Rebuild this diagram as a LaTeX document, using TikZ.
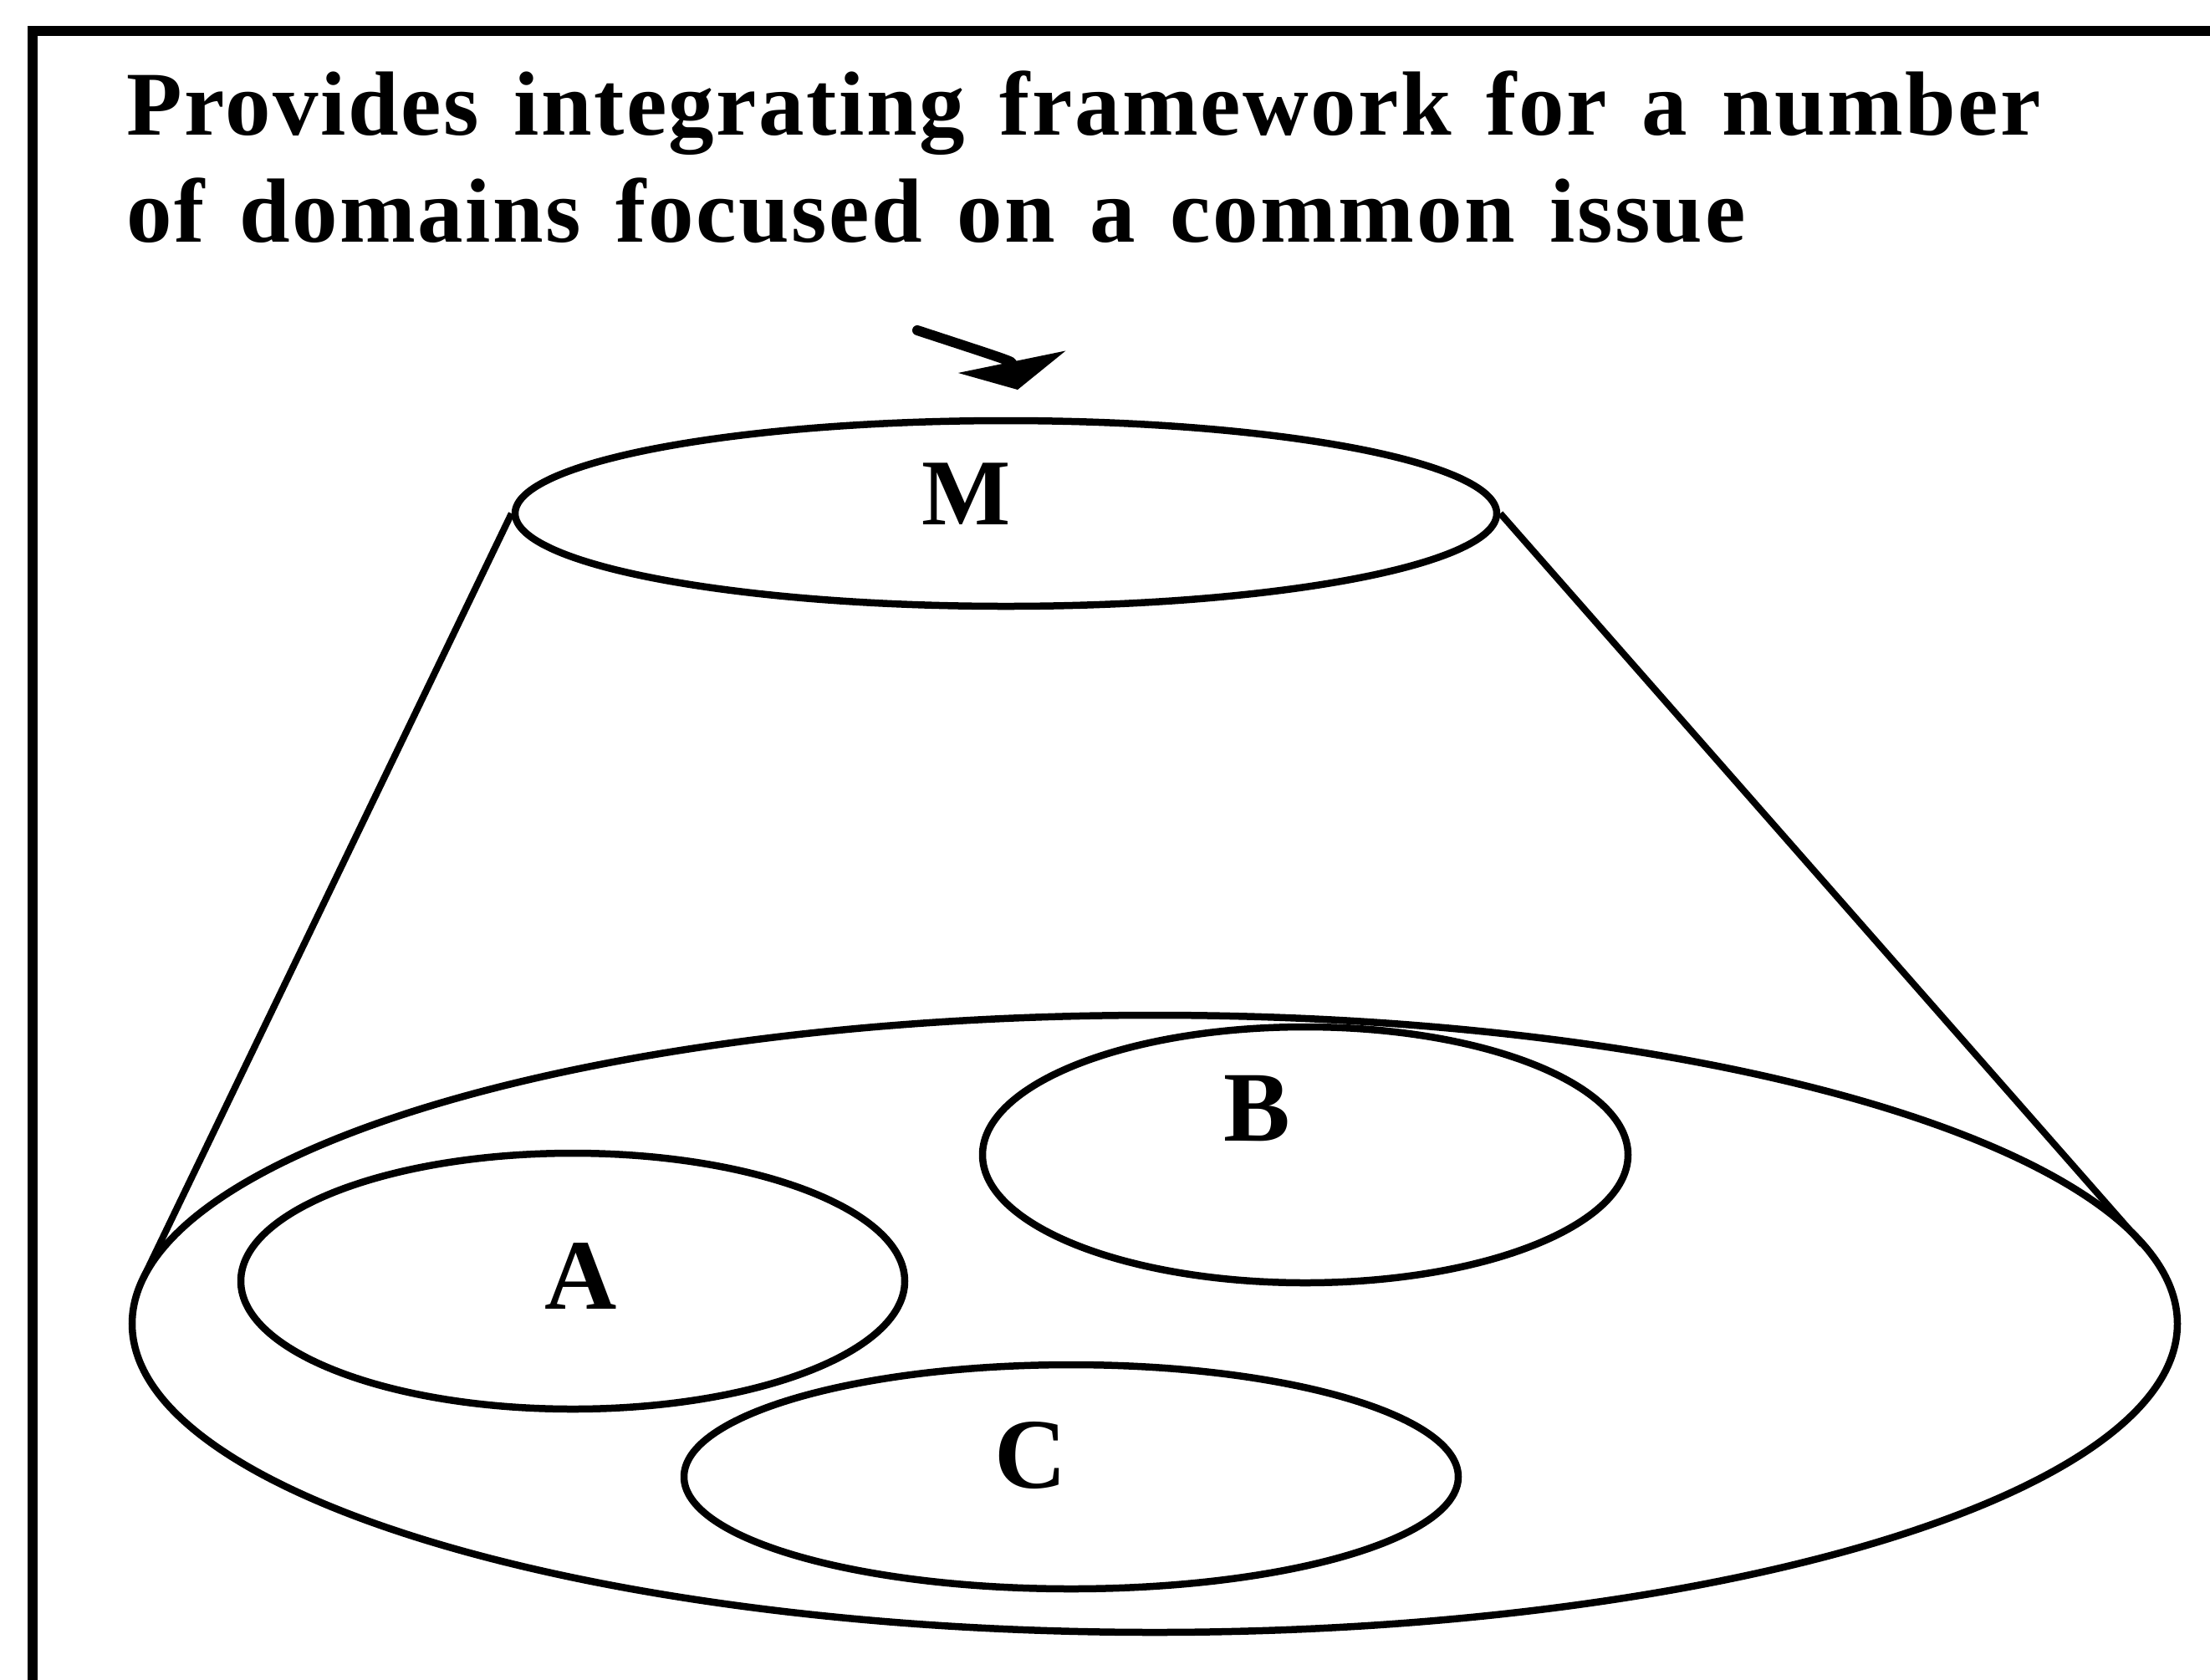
\documentclass[tikz,border=0pt]{standalone}
\usepackage{fontspec}
\setmainfont{Liberation Serif}
\newfontfamily\headfont{Liberation Serif}[LetterSpace=2.3, WordSpace=1.4]
\usetikzlibrary{shapes.geometric, arrows.meta, positioning}

\begin{document}
\begin{tikzpicture}[
    ring/.style={
        draw,
        ellipse,
        line width=0.085cm,
        inner sep=0pt
    },
    rim/.style={line width=0.08cm},
    lbl/.style={font=\bfseries\fontsize{#1}{#1}\selectfont, inner sep=0pt},
    lbl/.default=34,
    headline/.style={
        font=\headfont\bfseries\fontsize{31}{36.3}\selectfont,
        align=left,
        inner sep=0pt
    },
    pointer/.style={
        line width=0.12cm,
        line cap=round,
        -{Triangle[length=0.34cm, width=1.3cm]}
    }
]
\useasboundingbox (0,0) rectangle (26.43,-20.08);

% === Frame ===
\draw[line width=0.115cm] (26.6,-0.37) -- (0.39,-0.37) -- (0.39,-20.2);

% === Heading ===
\node[headline, anchor=north west] (head) at (1.51,-0.84) {Provides integrating framework for a number\\of domains focused on a common issue};

% === M: integrating framework ===
\node[ring, minimum width=11.74cm, minimum height=2.22cm] (mtop) at (12.03,-6.14) {};
\node[lbl=32] (mlbl) at (11.56,-5.91) {M};

\coordinate (arrowtail) at (10.97,-3.95);
\coordinate (arrowtip) at (12.17,-4.66);
\draw[pointer] (arrowtail) .. controls (12.10,-4.32) .. (arrowtip);

% === Domains ===
\node[ring, minimum width=24.46cm, minimum height=7.38cm] (base) at (13.81,-15.83) {};

\node[ring, minimum width=7.94cm, minimum height=3.06cm] (doma) at (6.85,-15.32) {};
\node[lbl] (albl) at (6.95,-15.26) {A};

\node[ring, minimum width=7.72cm, minimum height=3.06cm] (domb) at (15.61,-13.81) {};
\node[lbl] (blbl) at (15.03,-13.26) {B};

\node[ring, minimum width=9.26cm, minimum height=2.68cm] (domc) at (12.81,-17.66) {};
\node[lbl] (clbl) at (12.33,-17.40) {C};

% === Cone ===
\coordinate (coneleft) at (1.71,-15.29);
\coordinate (coneright) at (25.62,-14.88);
\draw[rim] (mtop.west) -- (coneleft);
\draw[rim] (mtop.east) -- (coneright);

\end{tikzpicture}
\end{document}
